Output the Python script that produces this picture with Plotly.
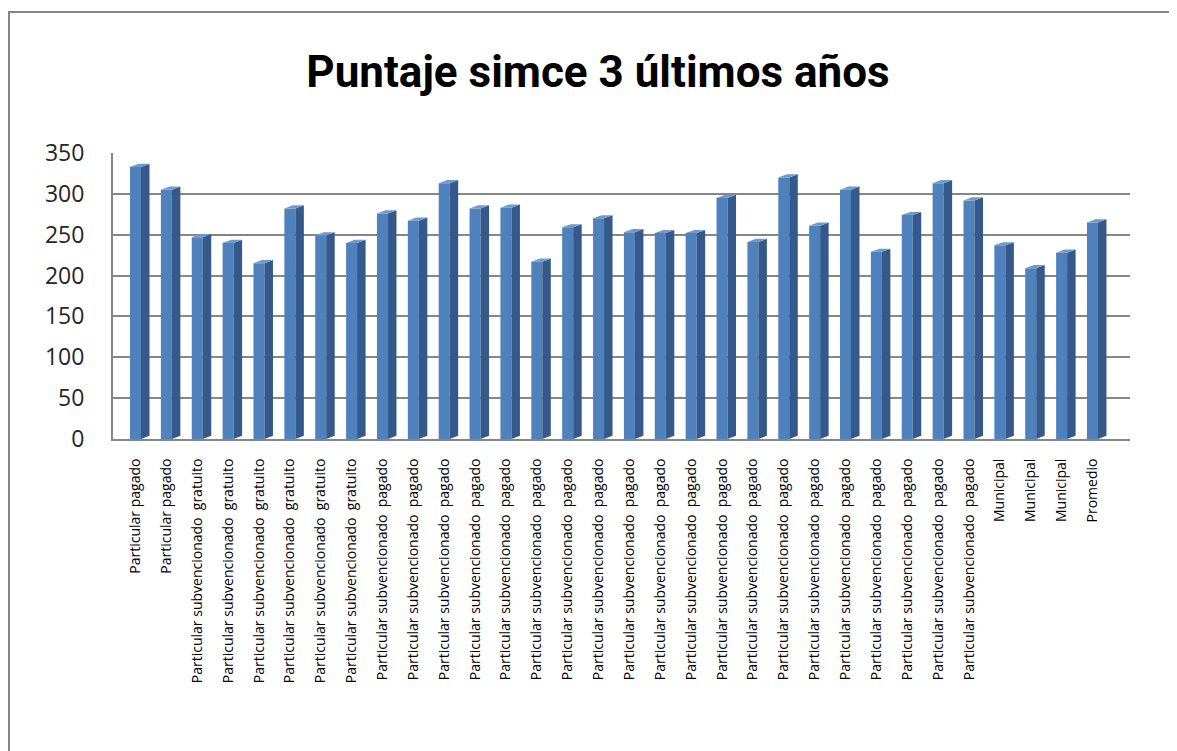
import plotly.graph_objects as go

categories = (
    ["Particular pagado"] * 2
    + ["Particular subvencionado\u00a0 gratuito"] * 6
    + ["Particular subvencionado\u00a0 pagado"] * 20
    + ["Municipal"] * 3
    + ["Promedio"]
)
puntajes = [333, 305, 247, 240, 215, 282, 249, 240, 276, 267,
            313, 282, 283, 217, 259, 270, 253, 252, 252, 295,
            241, 320, 261, 305, 229, 274, 313, 292, 237, 209,
            228, 265]
y_ticks = [0, 50, 100, 150, 200, 250, 300, 350]

# page body has an 8px margin, so the figure is laid out 8px in from the window
OFF = 8
W, H = 1177 - OFF, 751 - OFF
L, R, T, B = 113 - OFF, 1130 - OFF, 153 - OFF, 439 - OFF
pitch = 30.87
x0_px = 135.5 - OFF
xr = [(L - x0_px) / pitch, (R - x0_px) / pitch]
idx = list(range(len(puntajes)))

front_w = 11 / pitch
half = front_w / 2
dx = 8.5 / pitch
dy = 3.2 / ((B - T) / 350)

side_x, side_y, top_x, top_y = [], [], [], []
for i, v in zip(idx, puntajes):
    side_x += [i + half, i + half + dx, i + half + dx, i + half, i + half, None]
    side_y += [0, dy, v + dy, v, 0, None]
    top_x += [i - half, i + half, i + half + dx, i - half + dx, i - half, None]
    top_y += [v, v, v + dy, v + dy, v, None]

fig = go.Figure()
fig.add_trace(go.Bar(x=idx, y=puntajes, width=front_w,
                     marker=dict(color="#4F81BD", line=dict(width=0)),
                     hoverinfo="y"))
fig.add_trace(go.Scatter(x=side_x, y=side_y, mode="lines", fill="toself",
                         fillcolor="#34598A", line=dict(width=0, color="#34598A"),
                         hoverinfo="skip"))
fig.add_trace(go.Scatter(x=top_x, y=top_y, mode="lines", fill="toself",
                         fillcolor="#6E9AD2", line=dict(width=0, color="#6E9AD2"),
                         hoverinfo="skip"))

pw, ph = R - L, B - T
def px_to_paper_x(p):
    return (p - L) / pw
def px_to_paper_y(p):
    return (B - p) / ph

# outer chart frame
fig.add_shape(type="rect", xref="paper", yref="paper",
              x0=px_to_paper_x(1), x1=px_to_paper_x(W + 20),
              y0=px_to_paper_y(H + 20), y1=px_to_paper_y(12 - OFF),
              line=dict(color="#868686", width=2), fillcolor="rgba(0,0,0,0)",
              layer="below")

fig.update_layout(
    width=W, height=H,
    margin=dict(l=L, r=W - R, t=T, b=H - B, pad=0),
    paper_bgcolor="white", plot_bgcolor="white",
    showlegend=False,
    barmode="overlay",
    title=dict(text="<b>Puntaje simce 3 últimos años</b>",
               x=(598 - OFF) / W, xref="container", xanchor="center",
               y=1 - (72 - OFF) / H, yref="container", yanchor="middle",
               font=dict(family="Roboto, sans-serif", size=44, color="black")),
    xaxis=dict(range=xr, tickmode="array", tickvals=idx, ticktext=categories,
               tickangle=-90, showgrid=False, zeroline=False,
               showline=True, linecolor="#868686", linewidth=2,
               ticks="", ticklabelstandoff=12,
               tickfont=dict(family="Open Sans", size=14, color="black")),
    yaxis=dict(range=[0, 350], tickmode="array", tickvals=y_ticks,
               showgrid=True, gridcolor="#868686", gridwidth=2,
               zeroline=False, showline=True, linecolor="#868686", linewidth=2,
               ticks="", ticklabelstandoff=22,
               tickfont=dict(family="Open Sans", size=23, color="#262626")),
)

fig.write_html("out.html")
